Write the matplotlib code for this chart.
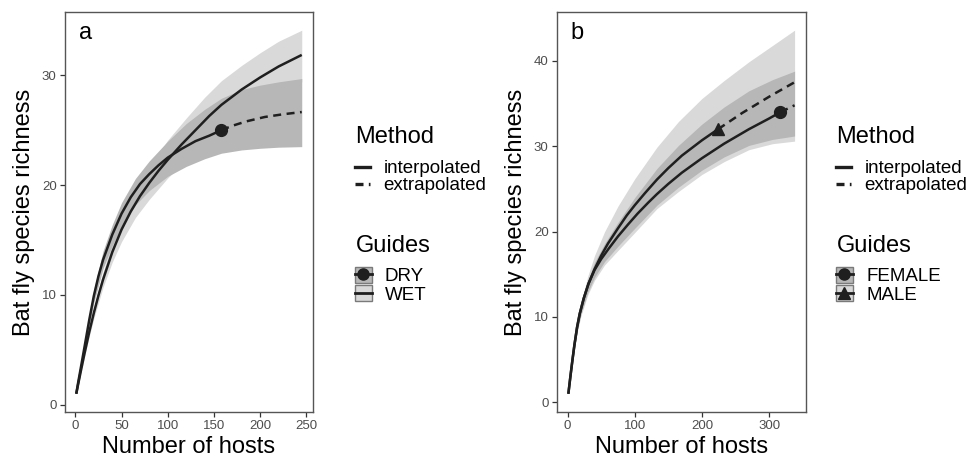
import matplotlib.pyplot as plt
from matplotlib.lines import Line2D
from matplotlib.patches import Patch
from matplotlib.legend_handler import HandlerTuple

plt.rcParams['font.family'] = ['Liberation Sans', 'DejaVu Sans']

# --- panel a: DRY / WET season ---
dry_x = [1, 3, 6, 10, 15, 20, 25, 30, 40, 50, 60, 70, 80, 90, 100, 115, 130, 145, 158]
dry_y = [1.0, 2.0, 3.4, 5.3, 7.7, 9.9, 11.7, 13.2, 15.5, 17.4, 18.9, 20.1, 21.0,
         21.8, 22.5, 23.3, 24.0, 24.5, 25.0]
dry_ext_x = [158, 170, 185, 205, 225, 245]
dry_ext_y = [25.0, 25.4, 25.8, 26.2, 26.45, 26.65]

wet_x = [1, 3, 6, 10, 15, 20, 25, 30, 40, 50, 60, 70, 80, 90, 100, 115, 130, 145,
         158, 180, 200, 220, 245]
wet_y = [1.0, 1.85, 3.1, 4.7, 6.6, 8.35, 9.95, 11.4, 13.9, 15.95, 17.6, 19.0, 20.2,
         21.3, 22.3, 23.7, 25.0, 26.3, 27.3, 28.7, 29.8, 30.8, 31.85]

band_x_a = [1, 5, 10, 15, 20, 30, 40, 50, 65, 80, 100, 120, 140, 158, 180, 200, 220, 245]
dry_lo = [1, 2.7, 4.95, 7.2, 9.3, 12.4, 14.5, 16.2, 18.2, 19.5, 20.8, 21.7, 22.4,
          22.9, 23.2, 23.35, 23.45, 23.5]
dry_hi = [1, 3.1, 5.65, 8.2, 10.5, 14.0, 16.4, 18.4, 20.6, 22.2, 24.0, 25.6, 26.9,
          27.9, 28.7, 29.1, 29.4, 29.7]
wet_lo = [1, 2.4, 4.4, 6.2, 7.85, 10.7, 13.0, 14.85, 17.05, 18.7, 20.65, 22.3,
          23.95, 25.2, 26.45, 27.5, 28.5, 29.4]
wet_hi = [1, 2.6, 5.0, 7.0, 8.85, 12.1, 14.8, 17.1, 19.7, 21.7, 24.1, 26.1, 28.0,
          29.5, 30.9, 32.05, 33.1, 34.1]

# --- panel b: FEMALE / MALE hosts ---
female_x = [1, 4, 7, 10, 14, 18, 24, 31, 40, 50, 61, 75, 90, 104, 120, 133, 150,
            170, 200, 233, 270, 300, 317]
female_y = [1.0, 3.0, 4.9, 6.7, 8.8, 10.4, 12.2, 13.9, 15.5, 16.8, 18.0, 19.45,
            20.85, 22.1, 23.4, 24.4, 25.6, 26.9, 28.6, 30.3, 32.0, 33.25, 34.0]
female_ext_x = [317, 338]
female_ext_y = [34.0, 34.8]

male_x = [1, 4, 7, 10, 14, 18, 24, 31, 40, 50, 60, 75, 88, 100, 115, 133, 150,
          170, 200, 224]
male_y = [1.0, 3.0, 4.9, 6.7, 8.8, 10.4, 12.2, 13.9, 15.6, 17.2, 18.6, 20.4, 21.9,
          23.1, 24.5, 26.1, 27.45, 28.9, 30.7, 32.0]
male_ext_x = [224, 260, 300, 338]
male_ext_y = [32.0, 33.9, 35.8, 37.5]

band_x_b = [1, 5, 10, 15, 20, 30, 40, 55, 75, 100, 133, 165, 200, 233, 270, 305, 338]
female_lo = [1, 3.45, 6.4, 8.7, 10.4, 12.9, 14.65, 16.5, 18.3, 20.4, 23.1, 25.2,
             27.2, 28.75, 30.1, 30.8, 31.2]
female_hi = [1, 3.75, 7.0, 9.5, 11.4, 14.3, 16.4, 18.6, 21.1, 24.0, 27.4, 30.1,
             32.6, 34.6, 36.5, 37.8, 38.8]
male_lo = [1, 3.35, 6.25, 8.5, 10.2, 12.6, 14.3, 16.1, 17.8, 19.9, 22.7, 24.7,
           26.7, 28.2, 29.6, 30.3, 30.6]
male_hi = [1, 3.8, 7.1, 9.7, 11.7, 14.8, 17.2, 20.0, 23.0, 26.2, 29.9, 32.9, 35.6,
           37.7, 39.9, 41.8, 43.6]

LINE = '#1f1f1f'
LIGHT = '#d9d9d9'
DARK = '#b7b7b7'
DASH = (0, (3.2, 2.2))


def style_axes(ax, xticks, yticks, xlim, ylim, tag):
    ax.set_xlim(*xlim)
    ax.set_ylim(*ylim)
    ax.set_xticks(xticks)
    ax.set_yticks(yticks)
    for s in ax.spines.values():
        s.set_color('#555555')
        s.set_linewidth(1.0)
    ax.tick_params(length=3.5, width=0.9, color='#333333', labelcolor='#4d4d4d',
                   labelsize=9.5, pad=2.5)
    ax.set_xlabel('Number of hosts', fontsize=17, labelpad=3)
    ax.set_ylabel('Bat fly species richness', fontsize=17, labelpad=5)
    ax.text(0.055, 0.975, tag, transform=ax.transAxes, fontsize=17, va='top', ha='left')


def add_legends(fig, x, labels, markers):
    # titles placed as plain text so the gap to the keys can match ggplot
    fig.text(x + 0.001, 1 - 143 / 459, 'Method', fontsize=17, va='baseline', ha='left')
    fig.text(x + 0.001, 1 - 252 / 459, 'Guides', fontsize=17, va='baseline', ha='left')

    method = [Line2D([], [], color=LINE, lw=2.4),
              Line2D([], [], color=LINE, lw=2.4, ls=(0, (2.4, 1.6)))]
    fig.legend(method, ['interpolated', 'extrapolated'],
               loc='upper left', bbox_to_anchor=(x, 1 - 160 / 459), frameon=False,
               fontsize=13.5, handlelength=0.8, handletextpad=0.75,
               labelspacing=0.0, borderpad=0, borderaxespad=0)
    guides = []
    for fc, mk in zip([DARK, LIGHT], markers):
        box = Patch(facecolor=fc, edgecolor='#7a7a7a', lw=1.0)
        ln = Line2D([], [], color=LINE, lw=2.0, marker=mk, ms=8)
        guides.append((box, ln))
    fig.legend(guides, labels,
               loc='upper left', bbox_to_anchor=(x, 1 - 267 / 459), frameon=False,
               fontsize=13.5, handlelength=0.92, handleheight=0.92, handletextpad=0.7,
               labelspacing=0.0, borderpad=0, borderaxespad=0,
               handler_map={tuple: HandlerTuple(ndivide=1, pad=0)})


fig = plt.figure(figsize=(9.7, 4.59), dpi=100)
ax_a = fig.add_axes([0.0670, 0.1024, 0.2557, 0.8715])
ax_b = fig.add_axes([0.5742, 0.1024, 0.2567, 0.8715])

# panel a
ax_a.fill_between(band_x_a, wet_lo, wet_hi, color=LIGHT, lw=0)
ax_a.fill_between(band_x_a, dry_lo, dry_hi, color=DARK, lw=0)
ax_a.plot(wet_x, wet_y, color=LINE, lw=1.8, solid_capstyle='butt')
ax_a.plot(dry_x, dry_y, color=LINE, lw=1.8, solid_capstyle='butt')
ax_a.plot(dry_ext_x, dry_ext_y, color=LINE, lw=1.8, ls=DASH)
ax_a.plot([dry_x[-1]], [dry_y[-1]], 'o', color=LINE, ms=8.5)
style_axes(ax_a, [0, 50, 100, 150, 200, 250], [0, 10, 20, 30],
           (-11.2, 257.2), (-0.66, 35.76), 'a')

# panel b
ax_b.fill_between(band_x_b, male_lo, male_hi, color=LIGHT, lw=0)
ax_b.fill_between(band_x_b, female_lo, female_hi, color=DARK, lw=0)
ax_b.plot(male_x, male_y, color=LINE, lw=1.8, solid_capstyle='butt')
ax_b.plot(female_x, female_y, color=LINE, lw=1.8, solid_capstyle='butt')
ax_b.plot(male_ext_x, male_ext_y, color=LINE, lw=1.8, ls=DASH)
ax_b.plot(female_ext_x, female_ext_y, color=LINE, lw=1.8, ls=DASH)
ax_b.plot([female_x[-1]], [female_y[-1]], 'o', color=LINE, ms=8.5)
ax_b.plot([male_x[-1]], [male_y[-1]], '^', color=LINE, ms=8.5)
style_axes(ax_b, [0, 100, 200, 300], [0, 10, 20, 30, 40],
           (-15.95, 354.95), (-1.13, 45.73), 'b')

add_legends(fig, 0.3655, ['DRY', 'WET'], ['o', None])
add_legends(fig, 0.8615, ['FEMALE', 'MALE'], ['o', '^'])

fig.savefig('out.png', dpi=100, facecolor='white')
